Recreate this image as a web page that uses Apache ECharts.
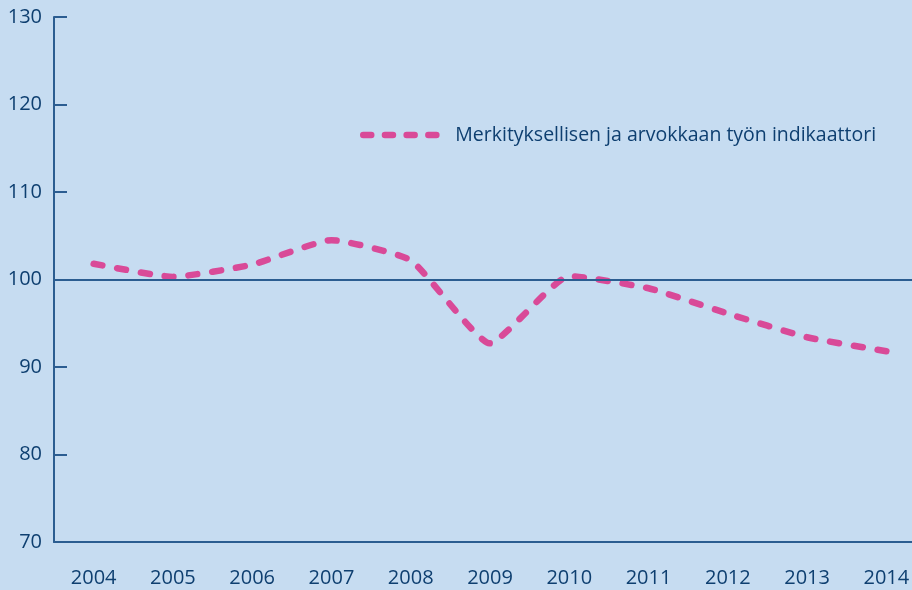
<!DOCTYPE html>
<html>
<head>
<meta charset="utf-8">
<script src="https://cdn.jsdelivr.net/npm/echarts@6/dist/echarts.min.js"></script>
<style>
  html, body { margin: 0; padding: 0; background: #c6dcf1; }
  #chart { width: 912px; height: 590px; }
</style>
</head>
<body>
<div id="chart"></div>
<script>
// --- data ---
const years = ['2004', '2005', '2006', '2007', '2008', '2009', '2010', '2011', '2012', '2013', '2014'];
const indicatorValues = [101.8, 100.3, 101.7, 104.5, 102.2, 92.7, 100.4, 99.0, 96.1, 93.4, 91.8];
const seriesName = 'Merkityksellisen ja arvokkaan työn indikaattori';
const yMin = 70, yMax = 130, yStep = 10;
const baseLine = 100;

const axisColor = '#2b5d91';
const textColor = '#0e3f70';
const pink = '#d94a98';
const fontFamily = '"Open Sans", Roboto, sans-serif';

const chart = echarts.init(document.getElementById('chart'));

chart.setOption({
    backgroundColor: '#c6dcf1',
    animation: false,
    grid: { left: 54, top: 17, bottom: 48, right: -14, outerBoundsMode: 'none', containLabel: false },
    legend: {
        left: 352,
        top: 120,
        itemWidth: 80,
        itemHeight: 20,
        itemGap: 10,
        itemStyle: { opacity: 0, borderWidth: 0 },
        lineStyle: { color: pink, width: 6.5, type: [8, 13.7], cap: 'round', dashOffset: -3 },
        textStyle: { color: textColor, fontSize: 19.5, fontWeight: 500, fontFamily: fontFamily, padding: [0, 0, 0, 10] },
        data: [seriesName]
    },
    xAxis: {
        type: 'category',
        data: years,
        boundaryGap: true,
        axisLine: { lineStyle: { color: axisColor, width: 2 } },
        axisTick: { alignWithLabel: true, length: 13, lineStyle: { color: axisColor, width: 2 } },
        axisLabel: { color: textColor, fontSize: 20, fontWeight: 500, fontFamily: fontFamily, margin: 26 },
        splitLine: { show: false }
    },
    yAxis: {
        type: 'value',
        min: yMin,
        max: yMax,
        interval: yStep,
        axisLine: { show: true, lineStyle: { color: axisColor, width: 2 } },
        axisTick: { show: true, inside: true, length: 13, lineStyle: { color: axisColor, width: 2 } },
        axisLabel: { color: textColor, fontSize: 20, fontWeight: 500, fontFamily: fontFamily, margin: 12 },
        splitLine: { show: false }
    },
    series: [
        {
            name: seriesName,
            type: 'line',
            data: indicatorValues,
            smooth: 0.15,
            symbol: 'none',
            lineStyle: { color: pink, width: 6.5, type: [9, 15], cap: 'round', join: 'round' },
            itemStyle: { color: pink },
            markLine: {
                silent: true,
                symbol: 'none',
                label: { show: false },
                lineStyle: { color: axisColor, width: 2, type: 'solid' },
                data: [{ yAxis: baseLine }]
            },
            z: 3
        }
    ]
});
</script>
</body>
</html>
